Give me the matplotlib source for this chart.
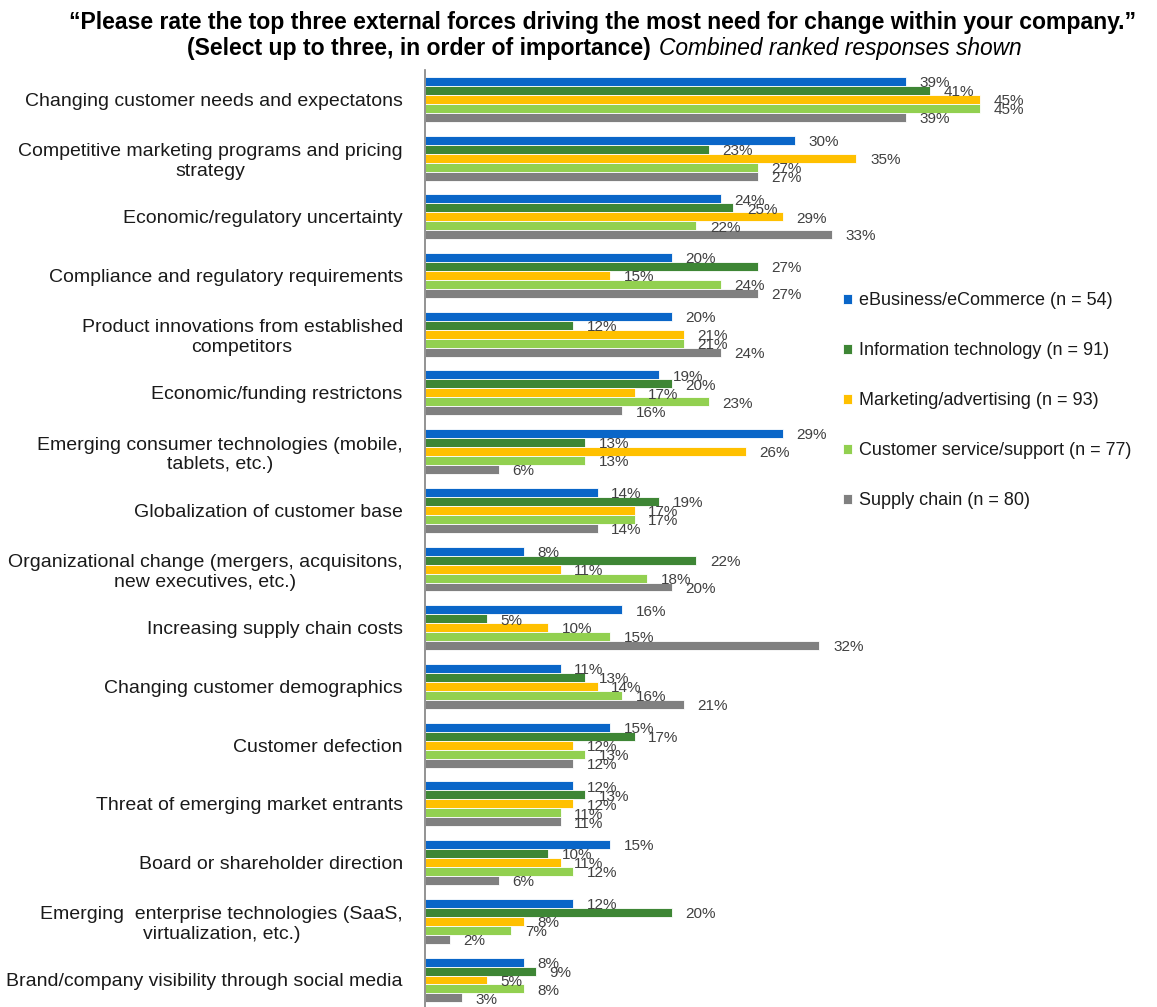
import matplotlib
matplotlib.use("Agg")
import matplotlib.pyplot as plt
import numpy as np

plt.rcParams['font.family'] = ['Liberation Sans', 'DejaVu Sans']

categories = [
    "Changing customer needs and expectatons",
    "Competitive marketing programs and pricing\nstrategy",
    "Economic/regulatory uncertainty",
    "Compliance and regulatory requirements",
    "Product innovations from established\ncompetitors",
    "Economic/funding restrictons",
    "Emerging consumer technologies (mobile,\ntablets, etc.)",
    "Globalization of customer base",
    "Organizational change (mergers, acquisitons,\nnew executives, etc.)",
    "Increasing supply chain costs",
    "Changing customer demographics",
    "Customer defection",
    "Threat of emerging market entrants",
    "Board or shareholder direction",
    "Emerging  enterprise technologies (SaaS,\nvirtualization, etc.)",
    "Brand/company visibility through social media",
]

series_names = [
    "eBusiness/eCommerce (n = 54)",
    "Information technology (n = 91)",
    "Marketing/advertising (n = 93)",
    "Customer service/support (n = 77)",
    "Supply chain (n = 80)",
]

ebusiness = [39, 30, 24, 20, 20, 19, 29, 14, 8, 16, 11, 15, 12, 15, 12, 8]
info_tech = [41, 23, 25, 27, 12, 20, 13, 19, 22, 5, 13, 17, 13, 10, 20, 9]
marketing = [45, 35, 29, 15, 21, 17, 26, 17, 11, 10, 14, 12, 12, 11, 8, 5]
cust_service = [45, 27, 22, 24, 21, 23, 13, 17, 18, 15, 16, 13, 11, 12, 7, 8]
supply_chain = [39, 27, 33, 27, 24, 16, 6, 14, 20, 32, 21, 12, 11, 6, 2, 3]

colors = ["#0a66c8", "#3e8635", "#ffc000", "#92d050", "#808080"]

W, H = 1157, 1007
fig = plt.figure(figsize=(W / 100, H / 100), dpi=100)
left, right = 425 / W, 1140 / W
top, bottom = 1 - 70 / H, 0.0
ax = fig.add_axes([left, bottom, right - left, top - bottom])

data = [ebusiness, info_tech, marketing, cust_service, supply_chain]
n = len(categories)
y = np.arange(n)
bh = 0.153
offsets = (np.arange(5) - 2) * bh
for k, (vals, name, col) in enumerate(zip(data, series_names, colors)):
    ax.barh(y + offsets[k], vals, height=bh, color=col, edgecolor="white",
            linewidth=0.6, label=name)
    for yi, v in zip(y, vals):
        ax.text(v + 1.1, yi + offsets[k] + 0.03, f"{v}%", va="center", ha="left",
                fontsize=11, color="#404040")

ax.set_xlim(0, 58)
ax.set_ylim(n - 0.54, -0.5)
ax.set_yticks(y)
ax.set_yticklabels(categories, fontsize=14, color="#1a1a1a")
for lab in ax.get_yticklabels():
    lab.set_multialignment("center")
ax.tick_params(axis="y", length=0, pad=16)
ax.set_xticks([])
for s in ["top", "right", "bottom"]:
    ax.spines[s].set_visible(False)
ax.spines["left"].set_color("#808080")
ax.spines["left"].set_linewidth(1.2)

leg = ax.legend(loc="upper left", bbox_to_anchor=((836 - 425) / (1140 - 425), 1 - (285 - 70) / (H - 70)),
                frameon=False, fontsize=13, handlelength=0.5, handleheight=0.5,
                handletextpad=0.35, labelspacing=1.83, borderaxespad=0)
for t in leg.get_texts():
    t.set_color("#1a1a1a")

fig.text(603 / W, 1 - 22 / H, "\u201cPlease rate the top three external forces driving the most need for change within your company.\u201d",
         ha="center", va="center", fontsize=16.6, fontweight="bold")
fig.text(651 / W, 1 - 48 / H, "(Select up to three, in order of importance)",
         ha="right", va="center", fontsize=16.6, fontweight="bold")
fig.text(659 / W, 1 - 48 / H, "Combined ranked responses shown",
         ha="left", va="center", fontsize=16.4, style="italic")

fig.savefig("out.png", dpi=100)
